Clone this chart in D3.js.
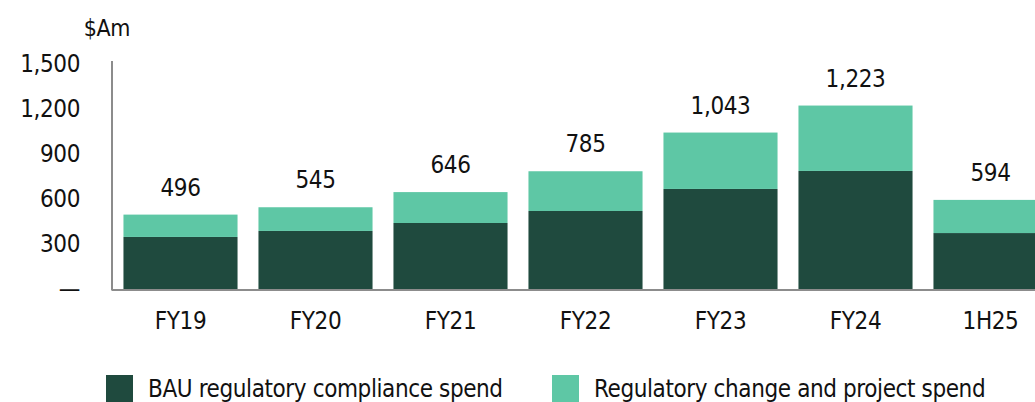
<!DOCTYPE html>
<html>
<head>
<meta charset="utf-8">
<title>Regulatory spend</title>
<script src="https://d3js.org/d3.v7.min.js"></script>
<style>
  body { margin: 0; background: #fff; }
  svg text { font-family: "DejaVu Sans Condensed", "Liberation Sans Narrow", sans-serif; fill: #111; letter-spacing: -0.4px; }
</style>
</head>
<body>
<svg id="chart"></svg>
<script>
// data ($Am)
var periods = ["FY19", "FY20", "FY21", "FY22", "FY23", "FY24", "1H25"];
var bauSpend = [347, 387, 440, 520, 667, 787, 373];
var changeSpend = [149, 158, 206, 265, 376, 436, 221];
var totals = [496, 545, 646, 785, 1043, 1223, 594];
var yTicks = [0, 300, 600, 900, 1200, 1500];
var seriesNames = ["BAU regulatory compliance spend", "Regulatory change and project spend"];

var colors = ["#1f4a3e", "#5ec7a5"];
var W = 1035, H = 402;

var svg = d3.select("#chart").attr("width", W).attr("height", H);

var rows = periods.map(function(p, i) {
  return { period: p, bau: bauSpend[i], change: changeSpend[i], total: totals[i] };
});

var x = d3.scaleBand()
  .domain(periods)
  .range([113, 1058])
  .paddingInner(0.155)
  .paddingOuter(0.0775);

var y = d3.scaleLinear()
  .domain([0, 1500])
  .range([289, 64]);

var stack = d3.stack().keys(["bau", "change"]);
var layers = stack(rows);

// bars
svg.selectAll("g.layer")
  .data(layers)
  .enter().append("g")
    .attr("class", "layer")
    .attr("fill", function(d, i) { return colors[i]; })
  .selectAll("rect")
  .data(function(d) { return d; })
  .enter().append("rect")
    .attr("x", function(d) { return x(d.data.period); })
    .attr("width", x.bandwidth())
    .attr("y", function(d) { return y(d[1]); })
    .attr("height", function(d) { return y(d[0]) - y(d[1]); });

// total labels
svg.selectAll("text.total")
  .data(rows)
  .enter().append("text")
    .attr("class", "total")
    .attr("x", function(d) { return x(d.period) + x.bandwidth() / 2; })
    .attr("y", function(d) { return y(d.bau + d.change) - 19; })
    .attr("text-anchor", "middle")
    .style("font-size", "24px")
    .text(function(d) { return d3.format(",")(d.total); });

// y axis
var yAxis = svg.append("g")
  .attr("transform", "translate(112,0)")
  .call(d3.axisLeft(y)
    .tickValues(yTicks)
    .tickSize(0)
    .tickPadding(32)
    .tickFormat(function(d) { return d === 0 ? "\u2014" : d3.format(",")(d); }));
yAxis.select(".domain").remove();
yAxis.selectAll("text")
  .style("font-size", "24px")
  .style("font-family", null);

// x axis
var xAxis = svg.append("g")
  .attr("transform", "translate(0,289)")
  .call(d3.axisBottom(x).tickSize(0).tickPadding(23));
xAxis.select(".domain").remove();
xAxis.selectAll("text")
  .style("font-size", "24px")
  .style("font-family", null);

// axis lines
svg.append("line")
  .attr("x1", 112).attr("x2", 112)
  .attr("y1", y(1500) - 3).attr("y2", 290.5)
  .attr("stroke", "#8c8c8c").attr("stroke-width", 2);
svg.append("line")
  .attr("x1", 112).attr("x2", W)
  .attr("y1", 290).attr("y2", 290)
  .attr("stroke", "#8c8c8c").attr("stroke-width", 2);

// unit label
svg.append("text")
  .attr("x", 107).attr("y", 36)
  .attr("text-anchor", "middle")
  .style("font-size", "23px")
  .text("$Am");

// legend
var legendX = [106, 552];
var legend = svg.selectAll("g.legend")
  .data(seriesNames)
  .enter().append("g")
    .attr("class", "legend")
    .attr("transform", function(d, i) { return "translate(" + legendX[i] + ",375)"; });
legend.append("rect")
  .attr("width", 27).attr("height", 27)
  .attr("fill", function(d, i) { return colors[i]; });
legend.append("text")
  .attr("x", 42).attr("y", 22)
  .style("font-size", "24px")
  .text(function(d) { return d; });
</script>
</body>
</html>
